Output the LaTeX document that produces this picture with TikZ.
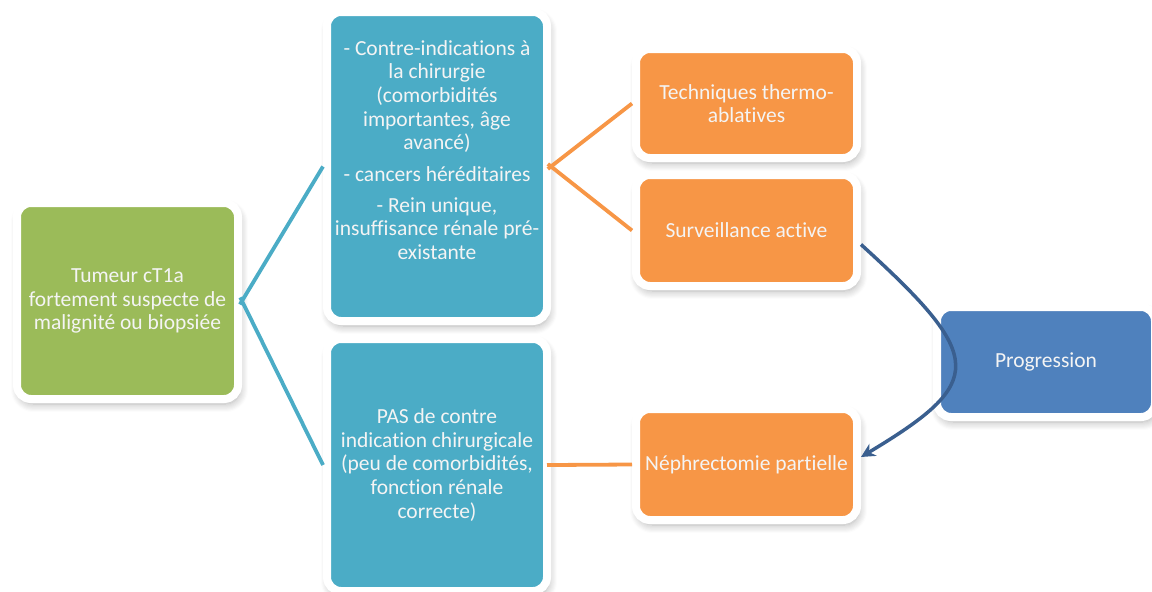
\documentclass[tikz,border=0pt]{standalone}
\usepackage{fontspec}
\setmainfont{Carlito}[Ligatures=NoCommon]
\usetikzlibrary{shadows.blur,arrows.meta}
\definecolor{cgreen}{HTML}{9BBB59}
\definecolor{cteal}{HTML}{4BACC6}
\definecolor{corange}{HTML}{F79646}
\definecolor{cblue}{HTML}{4F81BD}
\definecolor{carrow}{HTML}{3A5F8F}
\definecolor{ctext}{HTML}{F4F4F4}
\begin{document}
\begin{tikzpicture}[x=1pt,y=-1pt,
  box/.style={rounded corners=14pt, draw=white, line width=8pt,
    inner sep=0pt, text=ctext, align=center,
    font=\fontsize{21.5}{23.7}\selectfont,
    blur shadow={shadow xshift=2pt, shadow yshift=-5pt,
      shadow blur radius=8pt, shadow opacity=32, shadow blur steps=8}},
  txt/.style={text=ctext, align=center, inner sep=0pt,
    font=\fontsize{21.5}{23.7}\selectfont},
  link/.style={line width=3.8pt, shorten <=-4pt},
]
\useasboundingbox (0,0) rectangle (1152,592);

% boxes
\node[box, fill=cgreen, minimum width=221pt, minimum height=196pt]
  (tum) at (127.5,301) {Tumeur cT1a\\fortement suspecte de\\malignité ou biopsiée};
\node[box, fill=cteal, minimum width=220pt, minimum height=309pt]
  (ci) at (437,166.5) {};
\node[txt] (citxt) at (437,150)
  {- Contre-indications à\\la chirurgie\\(comorbidités\\importantes, âge\\avancé)\\[7.5pt]
   - cancers héréditaires\\[7.5pt]
   - Rein unique,\\insuffisance rénale pré-\\existante};
\node[box, fill=cteal, minimum width=220pt, minimum height=252pt]
  (noci) at (437,465) {PAS de contre\\indication chirurgicale\\(peu de comorbidités,\\fonction rénale\\correcte)};
\node[box, fill=corange, minimum width=221pt, minimum height=109pt]
  (thermo) at (746.5,103.5) {Techniques thermo-\\ablatives};
\node[box, fill=corange, minimum width=221pt, minimum height=111pt]
  (surv) at (746.5,230.5) {Surveillance active};
\node[box, fill=corange, minimum width=221pt, minimum height=111pt]
  (neph) at (746.5,464.5) {Néphrectomie partielle};
\node[box, fill=cblue, minimum width=218pt, minimum height=110pt]
  (prog) at (1046,362) {Progression};

% connectors
\draw[link, cteal] (tum.east) -- (ci.west);
\draw[link, cteal] (tum.east) -- (noci.west);
\draw[link, corange] (ci.east) -- (thermo.west);
\draw[link, corange] (ci.east) -- (surv.west);
\draw[link, corange] (noci.east) -- (neph.west);
\draw[carrow, line width=3.5pt, -{Stealth[length=14pt,width=14pt]}]
  ([yshift=-14pt]surv.east) .. controls (986,358) and (986,382) .. ([yshift=7.5pt]neph.east);
\end{tikzpicture}
\end{document}
